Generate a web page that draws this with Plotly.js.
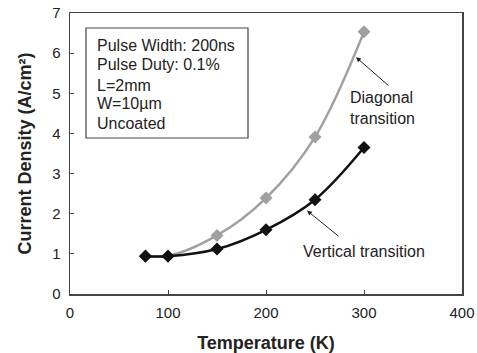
<!DOCTYPE html>
<html>
<head>
<meta charset="utf-8">
<script src="https://cdn.plot.ly/plotly-3.0.1.min.js"></script>
<style>html,body{margin:0;padding:0;background:#fff;}#chart{width:477px;height:353px;}</style>
</head>
<body>
<div id="chart"></div>
<script>
var temperature = [77, 100, 150, 200, 250, 300];
var diagonal = [0.95, 0.95, 1.46, 2.39, 3.91, 6.53];
var vertical = [0.94, 0.94, 1.12, 1.60, 2.35, 3.65];
var xTicks = [0, 100, 200, 300, 400];
var yTicks = [0, 1, 2, 3, 4, 5, 6, 7];
var infoLines = ["Pulse Width: 200ns", "Pulse Duty: 0.1%", "L=2mm", "W=10\u00b5m", "Uncoated"];

var font = "Liberation Sans, Arial, Helvetica, sans-serif";

var traces = [
  {x: temperature, y: diagonal, mode: "lines+markers", line: {shape: "spline", color: "#a0a0a0", width: 2.5},
   marker: {symbol: "diamond", size: 10, color: "#a0a0a0"}, name: "Diagonal"},
  {x: temperature, y: vertical, mode: "lines+markers", line: {shape: "spline", color: "#111", width: 2.5},
   marker: {symbol: "diamond", size: 10, color: "#111"}, name: "Vertical"}
];

var annotations = [];
var lineY = [46, 65, 85, 104, 123];
infoLines.forEach(function (t, i) {
  annotations.push({xref: "paper", yref: "paper", x: (95 - 70) / 392, y: 1 - (lineY[i] - 13) / 281,
    xanchor: "left", yanchor: "middle", text: t, showarrow: false, font: {family: font, size: 16, color: "#222"}});
});
annotations.push({x: 284, y: 4.63, xref: "x", yref: "y", xanchor: "left", yanchor: "middle", align: "left",
  text: "Diagonal<br>transition", showarrow: false, font: {family: font, size: 16, color: "#222"}});
annotations.push({x: 236, y: 1.07, xref: "x", yref: "y", xanchor: "left", yanchor: "middle",
  text: "Vertical transition", showarrow: false, font: {family: font, size: 16, color: "#222"}});
annotations.push({x: 291.8, y: 5.9, ax: 326.5, ay: 5.16, axref: "x", ayref: "y", xref: "x", yref: "y",
  text: "", showarrow: true, arrowhead: 2, arrowsize: 1, arrowwidth: 1, arrowcolor: "#222"});
annotations.push({x: 241.8, y: 2.08, ax: 275.5, ay: 1.41, axref: "x", ayref: "y", xref: "x", yref: "y",
  text: "", showarrow: true, arrowhead: 2, arrowsize: 1, arrowwidth: 1, arrowcolor: "#222"});

var layout = {
  width: 477, height: 353,
  margin: {l: 70, r: 15, t: 13, b: 59},
  paper_bgcolor: "#fff", plot_bgcolor: "#fff",
  showlegend: false,
  font: {family: font, size: 15, color: "#222"},
  xaxis: {range: [0, 400], tickvals: xTicks, ticktext: xTicks.map(String), ticks: "inside", ticklen: 4, tickcolor: "#444",
    showgrid: false, zeroline: false, showline: true, linecolor: "#444", linewidth: 1.5, mirror: true,
    tickfont: {size: 15, color: "#222"}, ticklabelstandoff: 4,
    title: {text: "<b>Temperature (K)</b>", font: {size: 18, color: "#222"}, standoff: 18}},
  yaxis: {range: [0, 7], tickvals: yTicks, ticktext: yTicks.map(String), ticks: "inside", ticklen: 4, tickcolor: "#444",
    showgrid: false, zeroline: false, showline: true, linecolor: "#444", linewidth: 1.5, mirror: true,
    tickfont: {size: 15, color: "#222"}, ticklabelstandoff: 5,
    title: {text: "<b>Current Density (A/cm\u00b2)</b>", font: {size: 18, color: "#222"}, standoff: 16}},
  shapes: [{type: "rect", xref: "paper", yref: "paper", x0: (86 - 70) / 392, x1: (248 - 70) / 392,
    y0: 1 - (138 - 13) / 281, y1: 1 - (28 - 13) / 281, line: {color: "#444", width: 1.2}}],
  annotations: annotations
};

Plotly.newPlot("chart", traces, layout, {staticPlot: true});
</script>
</body>
</html>
